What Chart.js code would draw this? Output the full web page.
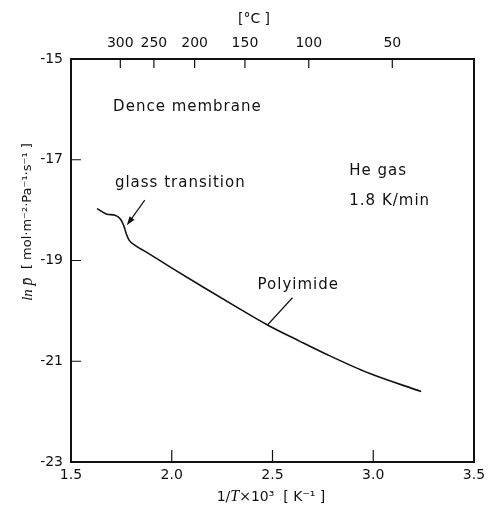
<!DOCTYPE html>
<html><head><meta charset="utf-8">
<script src="https://cdn.jsdelivr.net/npm/chart.js@4/dist/chart.umd.min.js"></script>
<style>html,body{margin:0;padding:0;background:#fff}canvas{display:block}</style>
</head><body>
<canvas id="c" width="491" height="512"></canvas>
<script>
// ---- data ----
const invT = [1.629, 1.678, 1.719, 1.744, 1.761, 1.777, 1.789, 1.818, 1.876, 2.005, 2.153, 2.337, 2.475, 2.634, 2.767, 2.980, 3.238];
const lnP  = [-17.97, -18.08, -18.10, -18.17, -18.30, -18.50, -18.60, -18.70, -18.84, -19.16, -19.52, -19.96, -20.28, -20.60, -20.86, -21.24, -21.60];
const xTicks = [1.5, 2.0, 2.5, 3.0, 3.5];
const yTicks = [-23, -21, -19, -17, -15];
const celsiusTicks = [300, 250, 200, 150, 100, 50];

// annotation texts (anchored in data units: left edge, baseline)
const notes = [
  {text: 'Dence membrane', x: 1.709, y: -16.03},
  {text: 'glass transition', x: 1.718, y: -17.55},
  {text: 'He gas', x: 2.881, y: -17.30},
  {text: '1.8 K/min', x: 2.881, y: -17.90},
  {text: 'Polyimide', x: 2.426, y: -19.57}
];
const arrowGT = {from: [1.866, -17.80], to: [1.777, -18.30]};
const leaderPI = {from: [2.599, -19.74], to: [2.475, -20.28]};

const INK = '#111';
const SANS = 'DejaVu Sans';

function drawParts(ctx, parts, x, y, align) {
  let total = 0;
  parts.forEach(p => { ctx.font = p.font; p.w = ctx.measureText(p.t).width; total += p.w; });
  let cx = align === 'center' ? x - total / 2 : x;
  parts.forEach(p => { ctx.font = p.font; ctx.fillText(p.t, cx, y); cx += p.w; });
}

const decor = {
  id: 'decor',
  afterDatasetsDraw(chart) {
    const ctx = chart.ctx;
    const a = chart.chartArea;
    const xs = chart.scales.x, ys = chart.scales.y, xt = chart.scales.xTop;
    ctx.save();
    ctx.strokeStyle = INK;
    ctx.fillStyle = INK;
    // frame
    ctx.lineWidth = 2;
    ctx.strokeRect(a.left, a.top, a.right - a.left, a.bottom - a.top);
    // inward ticks
    ctx.lineWidth = 1.2;
    ctx.beginPath();
    xTicks.slice(1, -1).forEach(v => {
      const px = xs.getPixelForValue(v);
      ctx.moveTo(px, a.bottom); ctx.lineTo(px, a.bottom - 12);
    });
    celsiusTicks.forEach(c => {
      const px = xt.getPixelForValue(1000 / (c + 273.15));
      ctx.moveTo(px, a.top); ctx.lineTo(px, a.top + 9);
    });
    yTicks.slice(1, -1).forEach(v => {
      const py = ys.getPixelForValue(v);
      ctx.moveTo(a.left, py); ctx.lineTo(a.left + 10, py);
    });
    ctx.stroke();

    // annotations
    ctx.textBaseline = 'alphabetic';
    ctx.textAlign = 'left';
    ctx.font = '15px "' + SANS + '"';
    try { ctx.letterSpacing = '1px'; } catch (e) {}
    notes.forEach(n => {
      ctx.fillText(n.text, xs.getPixelForValue(n.x), ys.getPixelForValue(n.y));
    });
    try { ctx.letterSpacing = '0px'; } catch (e) {}

    // arrow for glass transition
    const ax1 = xs.getPixelForValue(arrowGT.from[0]), ay1 = ys.getPixelForValue(arrowGT.from[1]);
    const ax2 = xs.getPixelForValue(arrowGT.to[0]), ay2 = ys.getPixelForValue(arrowGT.to[1]);
    const ang = Math.atan2(ay2 - ay1, ax2 - ax1);
    ctx.lineWidth = 1.2;
    ctx.beginPath(); ctx.moveTo(ax1, ay1); ctx.lineTo(ax2 - 6 * Math.cos(ang), ay2 - 6 * Math.sin(ang)); ctx.stroke();
    ctx.beginPath();
    ctx.moveTo(ax2, ay2);
    ctx.lineTo(ax2 - 9 * Math.cos(ang) + 3 * Math.sin(ang), ay2 - 9 * Math.sin(ang) - 3 * Math.cos(ang));
    ctx.lineTo(ax2 - 9 * Math.cos(ang) - 3 * Math.sin(ang), ay2 - 9 * Math.sin(ang) + 3 * Math.cos(ang));
    ctx.closePath(); ctx.fill();

    // leader for Polyimide
    ctx.beginPath();
    ctx.moveTo(xs.getPixelForValue(leaderPI.from[0]), ys.getPixelForValue(leaderPI.from[1]));
    ctx.lineTo(xs.getPixelForValue(leaderPI.to[0]), ys.getPixelForValue(leaderPI.to[1]));
    ctx.stroke();

    // axis titles
    ctx.textBaseline = 'middle';
    drawParts(ctx, [{t: '[°C ]', font: '14px "' + SANS + '"'}], 254, 19, 'center');
    drawParts(ctx, [
      {t: '1/', font: '14px "' + SANS + '"'},
      {t: 'T', font: 'italic 16px "Liberation Serif"'},
      {t: '×10³  [ K⁻¹ ]', font: '14px "' + SANS + '"'}
    ], 271, 497, 'center');
    ctx.translate(28, 222);
    ctx.rotate(-Math.PI / 2);
    drawParts(ctx, [
      {t: 'ln ', font: 'italic 15px "Liberation Serif"'},
      {t: 'p̄', font: 'italic 16px "Liberation Serif"'},
      {t: '  [ mol·m⁻²·Pa⁻¹·s⁻¹ ]', font: '13px "' + SANS + '"'}
    ], 0, 0, 'center');
    ctx.restore();
  }
};

const tickFont = {family: SANS, size: 14};
new Chart(document.getElementById('c'), {
  type: 'scatter',
  data: {
    datasets: [{
      data: invT.map((v, i) => ({x: v, y: lnP[i]})),
      showLine: true,
      borderColor: INK,
      borderWidth: 1.6,
      pointRadius: 0,
      cubicInterpolationMode: 'monotone',
      xAxisID: 'x', yAxisID: 'y'
    }]
  },
  options: {
    responsive: false,
    animation: false,
    layout: {padding: {left: 0, right: 17, top: 0, bottom: 0}},
    plugins: {legend: {display: false}, tooltip: {enabled: false}},
    scales: {
      x: {
        type: 'linear', position: 'bottom', min: 1.5, max: 3.5,
        afterBuildTicks: s => { s.ticks = xTicks.map(v => ({value: v})); },
        ticks: {callback: v => v.toFixed(1), padding: 5, color: INK, font: tickFont, maxRotation: 0, autoSkip: false},
        grid: {display: false, drawTicks: false}, border: {display: false},
        afterFit: s => { s.height = 50; }
      },
      xTop: {
        type: 'linear', position: 'top', min: 1.5, max: 3.5,
        afterBuildTicks: s => { s.ticks = celsiusTicks.map(c => ({value: 1000 / (c + 273.15)})); },
        ticks: {callback: (v, i) => String(celsiusTicks[i]), padding: 7, color: INK, font: tickFont, maxRotation: 0, autoSkip: false},
        grid: {display: false, drawTicks: false}, border: {display: false},
        afterFit: s => { s.height = 59; }
      },
      y: {
        type: 'linear', position: 'left', min: -23, max: -15,
        afterBuildTicks: s => { s.ticks = yTicks.map(v => ({value: v})); },
        ticks: {callback: v => String(v), padding: 8, color: INK, font: tickFont, autoSkip: false},
        grid: {display: false, drawTicks: false}, border: {display: false},
        afterFit: s => { s.width = 71; }
      }
    }
  },
  plugins: [decor]
});
</script>
</body></html>
